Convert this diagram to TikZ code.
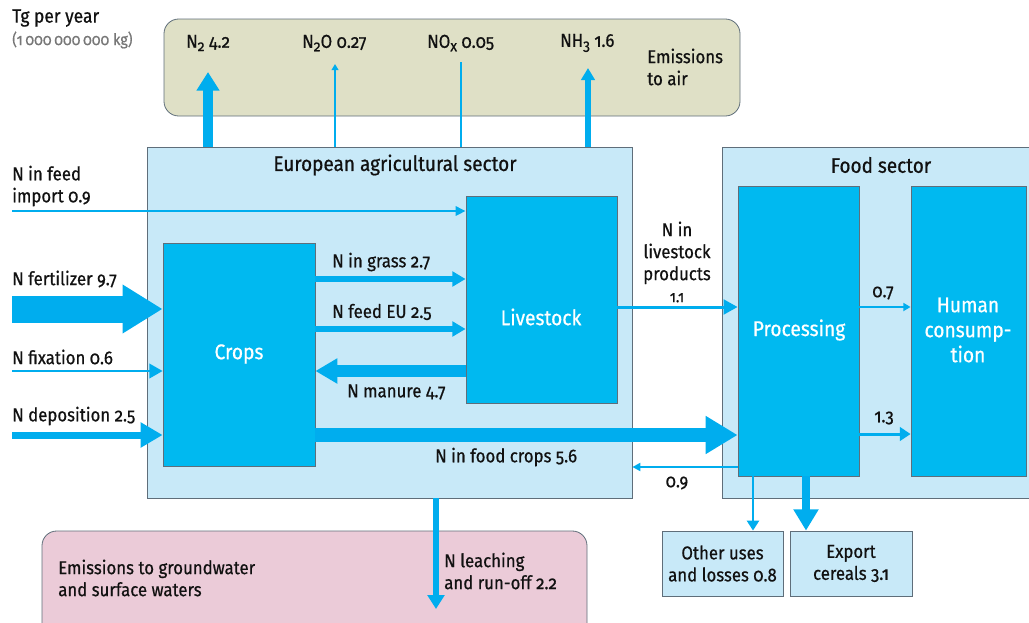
\documentclass[tikz,border=0pt]{standalone}
\usepackage{fontspec}
\setmainfont{Fira Sans}[Numbers=OldStyle, FakeStretch=0.9, FakeBold=0.6]
\usetikzlibrary{arrows.meta,fit}
\definecolor{cyanbox}{HTML}{00B9F0}
\definecolor{arrowc}{HTML}{00ADEE}
\definecolor{lightb}{HTML}{C8E9F8}
\definecolor{airc}{HTML}{DFE0C6}
\definecolor{waterc}{HTML}{EBCBD8}
\definecolor{edgec}{HTML}{5F6E7A}
\definecolor{txt}{HTML}{111111}
\definecolor{greytxt}{HTML}{777777}
\newcommand\mysub[1]{\raisebox{-0.35ex}{\fontsize{11.5}{12}\selectfont #1}}
\begin{document}
\begin{tikzpicture}[x=0.75pt,y=-0.75pt,
  font=\fontsize{14}{16.5}\selectfont, text=txt,
  sector/.style={draw=edgec, fill=lightb, line width=0.6pt, inner sep=0pt},
  pool/.style={draw=edgec, fill=cyanbox, line width=0.6pt, inner sep=0pt},
  roundbox/.style={draw=edgec, line width=0.6pt, rounded corners=11pt, inner sep=0pt},
  lbl/.style={inner sep=0pt, text=txt},
  title/.style={inner sep=0pt, text=txt, font=\fontsize{15.8}{18}\selectfont},
  wlbl/.style={inner sep=0pt, text=white, font=\fontsize{16}{18.75}\selectfont, align=center},
  flow/.style n args={3}{draw=arrowc, line width=#1, -{Triangle[length=#2, width=#3]}},
  plainflow/.style={draw=arrowc, line width=1.1pt}
]
\useasboundingbox (0,0) rectangle (1029,622);
\clip (0,0) rectangle (1029,622);

% ---- boxes
\node[roundbox, fill=airc, fit={(164,19) (740,116)}] (air) {};
\node[roundbox, fill=waterc, fit={(42,531) (587,660)}] (water) {};
\node[sector, fit={(147,147) (632,498)}] (agri) {};
\node[sector, fit={(722,147) (1040,498)}] (food) {};
\node[pool, fit={(163,243) (315,466)}] (crops) {};
\node[pool, fit={(466,196) (617,403)}] (livestock) {};
\node[pool, fit={(738,186) (859,476)}] (proc) {};
\node[pool, fit={(911,186) (1026,476)}] (human) {};
\node[sector, fit={(662,531) (783,596)}] (other) {};
\node[sector, fit={(790,531) (912,596)}] (export) {};

% ---- free ends
\coordinate (n2tip) at (208,72);
\coordinate (n2otip) at (335,64);
\coordinate (noxtip) at (461,62);
\coordinate (nh3tip) at (588,68);
\coordinate (feedsrc) at (12,211);
\coordinate (fertsrc) at (12,309);
\coordinate (fixsrc) at (12,371);
\coordinate (depsrc) at (12,435);
\coordinate (leachtip) at (436,609);

% ---- connectors
\draw[flow={7.5pt}{14pt}{16.5pt}] (agri.north -| n2tip) -- (n2tip);
\draw[flow={1.1pt}{4.5pt}{5pt}] (agri.north -| n2otip) -- (n2otip);
\draw[plainflow] (agri.north -| noxtip) -- (noxtip);
\draw[flow={4.5pt}{9pt}{10pt}] (agri.north -| nh3tip) -- (nh3tip);

\draw[flow={1.5pt}{7.5pt}{7pt}] (feedsrc) -- (feedsrc -| livestock.west);
\draw[flow={20.25pt}{30pt}{34.5pt}] (fertsrc) -- (fertsrc -| crops.west);
\draw[flow={1.5pt}{10pt}{11pt}] (fixsrc) -- (fixsrc -| crops.west);
\draw[flow={5.25pt}{16.5pt}{18pt}] (depsrc) -- (depsrc -| crops.west);

\draw[flow={4.5pt}{10pt}{11pt}] (crops.east |- 0,279) -- (livestock.west |- 0,279);
\draw[flow={4.5pt}{10pt}{11pt}] (crops.east |- 0,329) -- (livestock.west |- 0,329);
\draw[flow={9pt}{16.5pt}{18pt}] (livestock.west |- 0,371) -- (crops.east |- 0,371);
\draw[flow={10.5pt}{24pt}{27pt}] (crops.east |- 0,435) -- (proc.west |- 0,435);
\draw[flow={2.25pt}{10.5pt}{11pt}] (livestock.east |- 0,307) -- (proc.west |- 0,307);
\draw[flow={1.5pt}{5.5pt}{6pt}] (proc.east |- 0,307) -- (human.west |- 0,307);
\draw[flow={2.25pt}{8pt}{10pt}] (proc.east |- 0,434) -- (human.west |- 0,434);
\draw[flow={1.5pt}{6pt}{6pt}] (proc.west |- 0,467) -- (agri.east |- 0,467);
\draw[flow={2pt}{7.5pt}{9pt}] (proc.south -| 753,0) -- (other.north -| 753,0);
\draw[flow={6pt}{16pt}{18pt}] (proc.south -| 806,0) -- (export.north -| 806,0);
\draw[flow={4.5pt}{10.5pt}{12.5pt}] (agri.south -| leachtip) -- (leachtip);

% ---- texts
\node[lbl, anchor=west, font=\fontsize{14.5}{17}\selectfont] (tg) at (12,18) {Tg per year};
\node[lbl, anchor=west, font=\fontsize{12}{14}\selectfont, text=greytxt] (tgkg) at (12,40) {(1\,000\,000\,000 kg)};

\node[lbl, anchor=west] (tn2) at (186,43) {N\mysub{2} 4.2};
\node[lbl, anchor=west] (tn2o) at (302,43) {N\mysub{2}O 0.27};
\node[lbl, anchor=west] (tnox) at (427,43) {NO\mysub{x} 0.05};
\node[lbl, anchor=west] (tnh3) at (560,43) {NH\mysub{3} 1.6};
\node[lbl, anchor=west, align=left] (tair) at (647,67) {Emissions\\to air};

\node[title] (tagri) at (395,165) {European agricultural sector};
\node[title] (tfood) at (881,165) {Food sector};

\node[lbl, anchor=west, align=left] (tfeed) at (12,186) {N in feed\\import 0.9};
\node[lbl, anchor=west] (tfert) at (12,279) {N fertilizer 9.7};
\node[lbl, anchor=west] (tfix) at (12,357) {N fixation 0.6};
\node[lbl, anchor=west] (tdep) at (12,416) {N deposition 2.5};

\node[lbl, anchor=west] (tgrass) at (332,262) {N in grass 2.7};
\node[lbl, anchor=west] (tfeedeu) at (332,312) {N feed EU 2.5};
\node[lbl, anchor=west] (tmanure) at (347,392) {N manure 4.7};
\node[lbl, anchor=west] (tfoodcrops) at (435,457) {N in food crops 5.6};
\node[lbl, align=center] (tlsprod) at (677,262) {N in\\livestock\\products\\{\fontsize{12}{14}\selectfont 1.1}};
\node[lbl] (t07) at (883,293) {0.7};
\node[lbl] (t13) at (884,418) {1.3};
\node[lbl] (t09) at (677,483) {0.9};

\node[lbl, align=center] (tother) at (other.center) {Other uses\\and losses 0.8};
\node[lbl, align=center] (texport) at (export.center) {Export\\cereals 3.1};

\node[lbl, anchor=west, align=left] (twater) at (58,578) {Emissions to groundwater\\and surface waters};
\node[lbl, anchor=west, align=left] (tleach) at (444,571) {N leaching\\and run-off 2.2};

\node[wlbl] (tcrops) at (239,354) {Crops};
\node[wlbl] (tlive) at (541,317) {Livestock};
\node[wlbl] (tproc) at (799,330) {Processing};
\node[wlbl] (thuman) at (968,330) {Human\\consump-\\tion};
\end{tikzpicture}
\end{document}
